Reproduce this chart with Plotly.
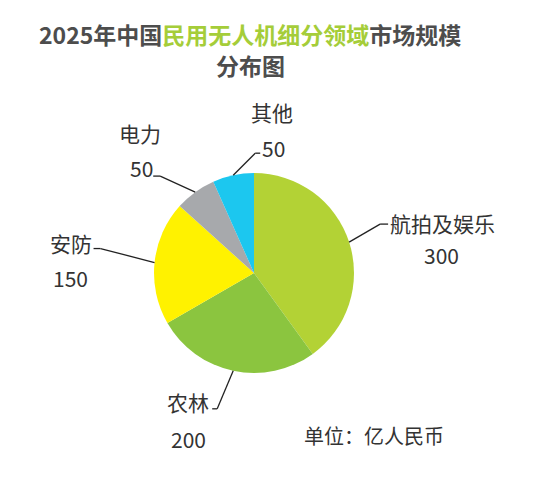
import math
import plotly.graph_objects as go

# ---- data ----
categories = ["航拍及娱乐", "农林", "安防", "电力", "其他"]
values = [300, 200, 150, 50, 50]
colors = ["#B3D235", "#8BC53F", "#FFF200", "#A7A9AC", "#1CC7EF"]

title_parts = ["2025年中国", "民用无人机细分领域", "市场规模", "分布图"]
unit_text = "单位：亿人民币"

W, H = 544, 484
CX, CY, R = 254, 273, 100  # pie centre / radius in pixels


def px(x):
    return x / W


def py(y):
    return 1 - y / H


# label styling: elbow offset from slice edge, stub (signed length),
# and placement of the two text lines relative to the stub end
label_style = [
    dict(elbow=(31, -18), stub=8,
         texts=[("name", (0, -1), "left"), ("value", (53, 31), "center")]),
    dict(elbow=(-16, 38), stub=-5,
         texts=[("name", (-1, -7), "right"), ("value", (-24, 30), "center")]),
    dict(elbow=(-54, -14), stub=-7,
         texts=[("name", (0, -6), "right"), ("value", (-23, 29), "center")]),
    dict(elbow=(-35, -16), stub=-7,
         texts=[("value", (2, -8), "right"), ("name", (-13, -43), "center")]),
    dict(elbow=(22, -22), stub=5,
         texts=[("value", (0, -5), "left"), ("name", (12, -41), "center")]),
]

fig = go.Figure(go.Pie(
    labels=categories,
    values=values,
    marker=dict(colors=colors, line=dict(width=0)),
    sort=False,
    direction="clockwise",
    rotation=0,
    textinfo="none",
    hoverinfo="label+value",
    showlegend=False,
    domain=dict(x=[px(CX - R), px(CX + R)], y=[py(CY + R), py(CY - R)]),
))

total = sum(values)
shapes = []
annotations = []
cum = 0
label_font = dict(family="Noto Sans CJK SC, sans-serif", size=21, color="#333333")
for cat, val, st in zip(categories, values, label_style):
    mid = (cum + val / 2) / total * 2 * math.pi
    cum += val
    ex = CX + R * math.sin(mid)
    ey = CY - R * math.cos(mid)
    bx, by = ex + st["elbow"][0], ey + st["elbow"][1]
    sx, sy = bx + st["stub"], by
    for (x0, y0, x1, y1) in [(ex, ey, bx, by), (bx, by, sx, sy)]:
        shapes.append(dict(type="line", xref="paper", yref="paper",
                           x0=px(x0), y0=py(y0), x1=px(x1), y1=py(y1),
                           line=dict(color="#222222", width=1.3)))
    for kind, (ox, oy), anchor in st["texts"]:
        txt = cat if kind == "name" else str(val)
        annotations.append(dict(
            text=txt, xref="paper", yref="paper",
            x=px(sx + ox), y=py(sy + oy),
            xanchor=anchor, yanchor="middle", showarrow=False,
            font=label_font))

title_font = dict(family="Noto Sans CJK SC, sans-serif", size=23, color="#4D4D4D")
line1 = (f"<b>{title_parts[0]}<span style='color:#A5CD39'>{title_parts[1]}</span>"
         f"{title_parts[2]}</b>")
line2 = f"<b>{title_parts[3]}</b>"
annotations.append(dict(
    text=line1, xref="paper", yref="paper", x=px(250), y=py(34),
    xanchor="center", yanchor="middle", showarrow=False, font=title_font))
annotations.append(dict(
    text=line2, xref="paper", yref="paper", x=px(250), y=py(65),
    xanchor="center", yanchor="middle", showarrow=False, font=title_font))

annotations.append(dict(
    text=unit_text, xref="paper", yref="paper", x=px(302), y=py(435),
    xanchor="left", yanchor="middle", showarrow=False,
    font=dict(family="Noto Sans CJK SC, sans-serif", size=20, color="#333333")))

fig.update_layout(
    width=W, height=H,
    margin=dict(l=0, r=0, t=0, b=0),
    paper_bgcolor="white", plot_bgcolor="white",
    shapes=shapes, annotations=annotations,
)

fig.write_html("out.html")
